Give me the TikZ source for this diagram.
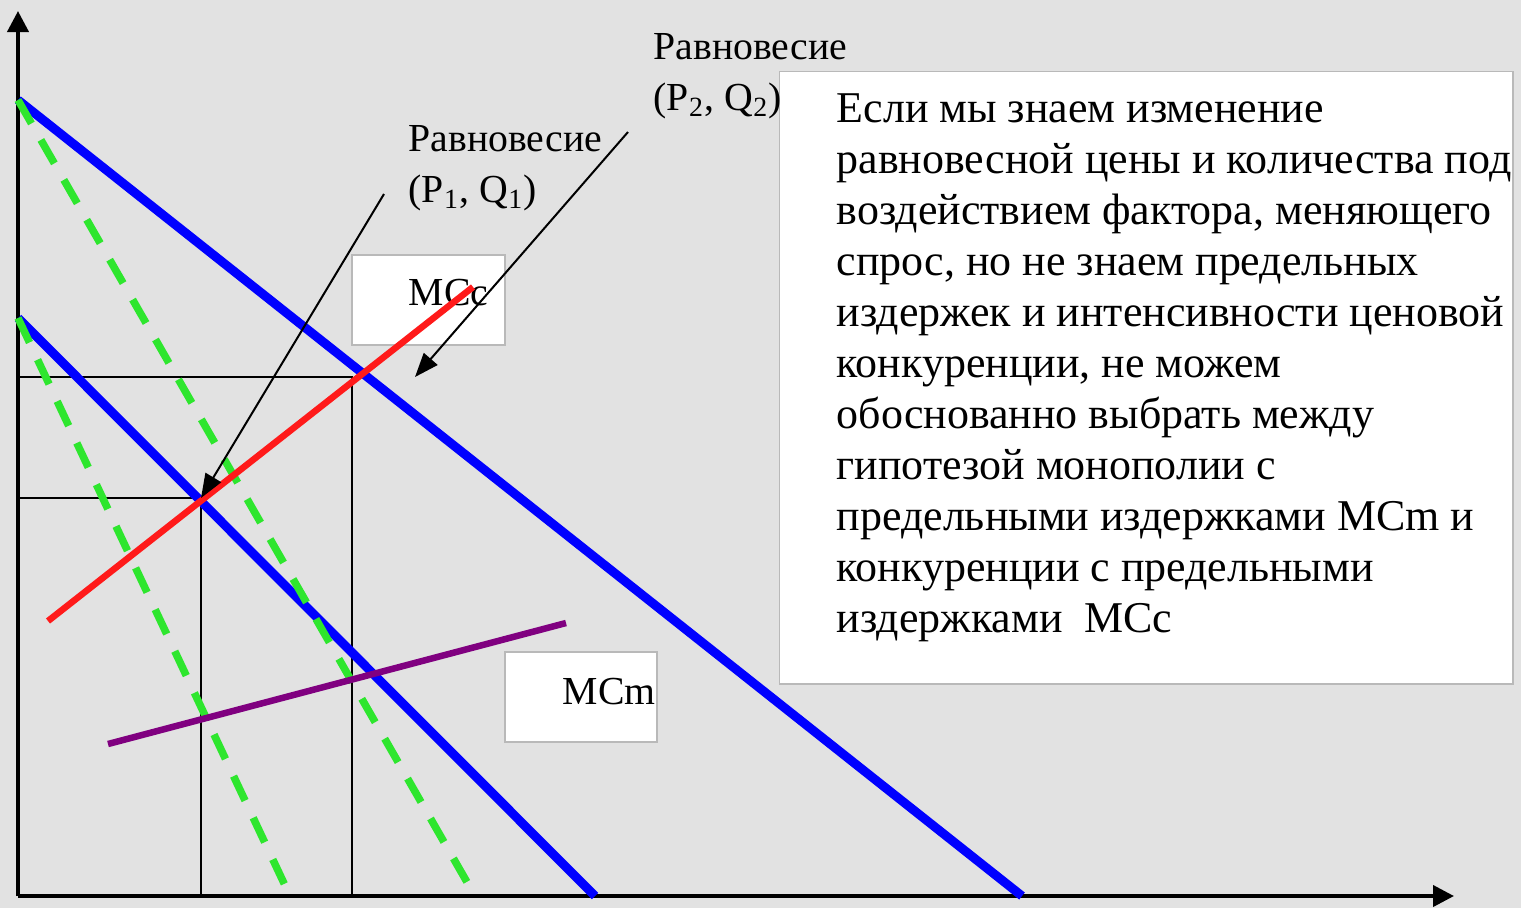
\documentclass[tikz,border=0pt]{standalone}
\usepackage{fontspec}
\setmainfont{Liberation Serif}
\usepackage{tikz}
\usetikzlibrary{arrows.meta}
\definecolor{slidebg}{HTML}{E2E2E2}
\definecolor{demblue}{HTML}{0000FF}
\definecolor{dashgreen}{HTML}{2EE62E}
\definecolor{mccred}{HTML}{FF1A1A}
\definecolor{mcmpurple}{HTML}{800080}
\tikzset{
  axis/.style={draw=black, line width=0.04cm, -{Triangle[length=0.21cm,width=0.21cm]}},
  guide/.style={draw=black, line width=0.02cm},
  dem/.style={draw=demblue, line width=0.09cm},
  dashdem/.style={draw=dashgreen, line width=0.075cm, dash pattern=on 0.27cm off 0.19cm},
  mccline/.style={draw=mccred, line width=0.065cm},
  mcmline/.style={draw=mcmpurple, line width=0.065cm},
  ptr/.style={draw=black, line width=0.02cm, -{Triangle[length=0.24cm,width=0.18cm]}},
  whitebox/.style={fill=white, draw=gray!55, line width=0.4pt, inner sep=0pt},
  lbl/.style={inner sep=0pt, align=left, font=\fontsize{11.3}{14.5}\selectfont},
  note/.style={inner sep=0pt, align=left, font=\fontsize{12.5}{14.5}\selectfont},
}
\begin{document}
\begin{tikzpicture}[x=0.01cm, y=-0.01cm]
\fill[slidebg] (0,0) rectangle (1521,908);
\useasboundingbox (0,0) rectangle (1521,908);

% axes
\coordinate (O) at (18,896);
\coordinate (ytip) at (18,11);
\coordinate (xtip) at (1454,896);
\draw[axis] (O) -- (ytip);
\draw[axis] (O) -- (xtip);

% boxes
\node[whitebox, minimum width=1.53cm, minimum height=0.90cm] (mccbox) at (428.5,300) {};
\node[whitebox, minimum width=1.52cm, minimum height=0.90cm] (mcmbox) at (581,697) {};
\node[whitebox, minimum width=7.33cm, minimum height=6.12cm, anchor=north west] (notebox) at (779,71) {};
\node[lbl, anchor=base west] (mcctext) at (408,305) {MCc};
\node[lbl, anchor=base west] (mcmtext) at (562,704) {MCm};

% equilibrium levels
\coordinate (e1) at (201,498);
\coordinate (e2) at (352,377);
\draw[guide] (18,377) -- (e2) -- (352,896);
\draw[guide] (18,498) -- (e1) -- (201,896);

% demand curves
\draw[dem] (18,100) -- (1022,896);
\draw[dem] (18,318) -- (595,896);
\draw[dashdem] (18,100) -- (475,896);
\draw[dashdem] (18,318) -- (290,896);

% marginal costs
\draw[mccline] (48,621) -- (473,287);
\draw[mcmline] (108,744) -- (566,623);

% labels
\node[lbl, anchor=north west] (eq1) at (408,125) {Равновесие\\(P\textsubscript{1}, Q\textsubscript{1})};
\node[lbl, anchor=north west] (eq2) at (653,33) {Равновесие\\(P\textsubscript{2}, Q\textsubscript{2})};
\coordinate (a1) at (384,194);
\coordinate (a2) at (628,132);
\coordinate (t2) at (415,377);
\draw[ptr] (a1) -- (e1);
\draw[ptr] (a2) -- (t2);

\node[note, anchor=north west] (notetext) at (836,93) {Если мы знаем изменение\\
равновесной цены и количества под\\
воздействием фактора, меняющего\\
спрос, но не знаем предельных\\
издержек и интенсивности ценовой\\
конкуренции, не можем\\
обоснованно выбрать между\\
гипотезой монополии с\\
предельными издержками MCm и\\
конкуренции с предельными\\
издержками\ \ MCc};
\end{tikzpicture}
\end{document}
